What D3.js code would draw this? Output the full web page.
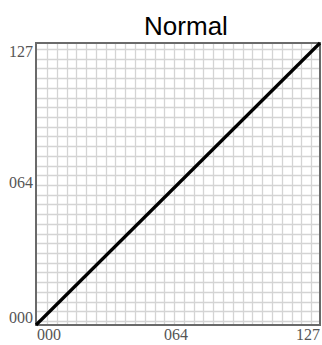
<!DOCTYPE html>
<html>
  <head>
    <meta charset="utf-8">
    <script src="https://d3js.org/d3.v7.min.js"></script>
    <style>
      body { margin: 0; background: #fff; }
      svg { display: block; }
    </style>
  </head>
  <body>
    <svg></svg>
    <script>
      // curve data (input -> output)
      var curveIn = [0, 127];
      var curveOut = [0, 127];
      var tickValues = [0, 64, 127];
      var tickLabels = ['000', '064', '127'];
      var title = 'Normal';

      var width = 322, height = 345;
      var plotLeft = 36, plotRight = 320, plotTop = 43, plotBottom = 325;

      var svg = d3.select('svg').attr('width', width).attr('height', height);

      var x = d3.scaleLinear().domain([0, 127]).range([plotLeft, plotRight]);
      var y = d3.scaleLinear().domain([0, 127]).range([plotBottom, plotTop]);

      // grid
      var step = 4.375;
      var gx = d3.range(4.9, 127, step);
      var gy = d3.range(1.8, 127, step);

      svg.append('g').selectAll('line').data(gx).enter().append('line')
        .attr('x1', function (d) { return Math.round(x(d)) + 0.5; })
        .attr('x2', function (d) { return Math.round(x(d)) + 0.5; })
        .attr('y1', plotTop).attr('y2', plotBottom)
        .style('stroke', '#d4d4d4').style('stroke-width', 1.3);

      svg.append('g').selectAll('line').data(gy).enter().append('line')
        .attr('y1', function (d) { return Math.round(y(d)) + 0.5; })
        .attr('y2', function (d) { return Math.round(y(d)) + 0.5; })
        .attr('x1', plotLeft).attr('x2', plotRight)
        .style('stroke', '#d4d4d4').style('stroke-width', 1.3);

      // frame
      svg.append('rect')
        .attr('x', plotLeft).attr('y', plotTop)
        .attr('width', plotRight - plotLeft).attr('height', plotBottom - plotTop)
        .style('fill', 'none').style('stroke', '#6a6a6a').style('stroke-width', 2);

      // curve
      var line = d3.line()
        .x(function (d) { return x(d[0]); })
        .y(function (d) { return y(d[1]); });

      svg.append('path')
        .datum(d3.zip(curveIn, curveOut))
        .attr('d', line)
        .style('fill', 'none').style('stroke', '#000').style('stroke-width', 3.2);

      // y labels
      svg.append('g').selectAll('text').data(tickValues).enter().append('text')
        .attr('x', plotLeft - 3)
        .attr('y', function (d, i) {
          if (i === 0) return plotBottom - 2;
          if (i === tickValues.length - 1) return plotTop + 14;
          return y(d) + 5.5;
        })
        .attr('text-anchor', 'end')
        .style('font-family', '"Liberation Serif", serif')
        .style('font-size', '16px')
        .style('fill', '#555')
        .text(function (d, i) { return tickLabels[i]; });

      // x labels
      svg.append('g').selectAll('text').data(tickValues).enter().append('text')
        .attr('x', function (d, i) {
          if (i === 0) return plotLeft + 1;
          if (i === tickValues.length - 1) return plotRight;
          return x(d) - 3;
        })
        .attr('y', 340)
        .attr('text-anchor', function (d, i) {
          if (i === 0) return 'start';
          if (i === tickValues.length - 1) return 'end';
          return 'middle';
        })
        .style('font-family', '"Liberation Serif", serif')
        .style('font-size', '16px')
        .style('fill', '#555')
        .text(function (d, i) { return tickLabels[i]; });

      // title
      svg.append('text')
        .attr('x', 186).attr('y', 35)
        .attr('text-anchor', 'middle')
        .style('font-family', '"Liberation Sans", Arial, sans-serif')
        .style('font-size', '26px')
        .style('fill', '#000')
        .text(title);
    </script>
  </body>
</html>
